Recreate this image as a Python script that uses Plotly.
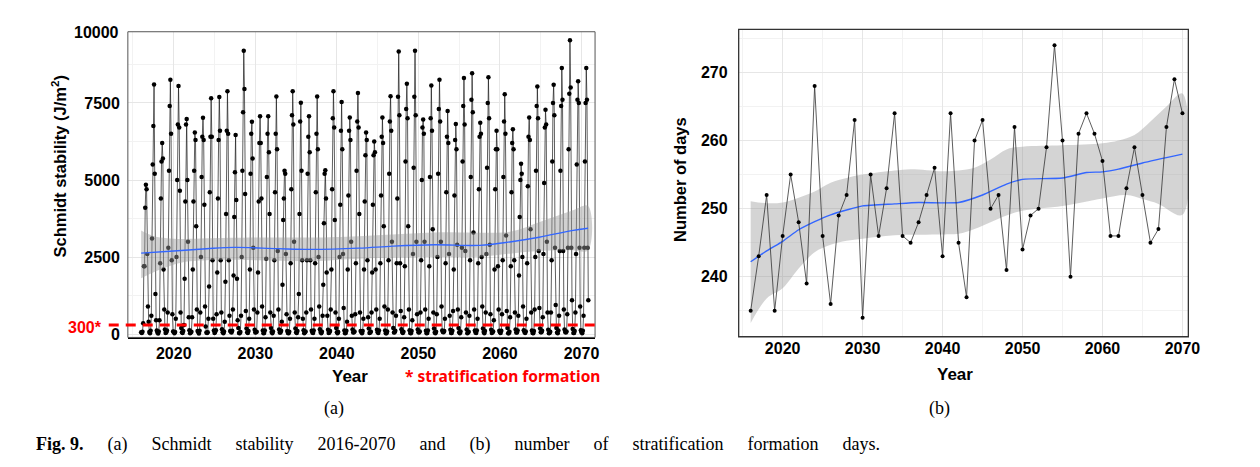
import plotly.graph_objects as go

# ---------------- Panel (a): monthly Schmidt stability (J/m2), Jan..Dec ----------------
years_a = list(range(2016, 2071))
schmidt_monthly = [
    [60, 40, 80, 350, 2200, 2200, 4100, 4850, 4700, 2600, 900, 400],      # 2016
    [70, 30, 110, 600, 3100, 5500, 6750, 8100, 5200, 1300, 450, 120],     # 2017
    [50, 20, 90, 450, 2300, 4400, 5600, 6200, 5700, 2100, 800, 150],      # 2018
    [40, 60, 120, 700, 2800, 5300, 7400, 8250, 6500, 2400, 650, 90],      # 2019
    [80, 30, 70, 500, 2500, 5000, 6800, 8050, 6700, 4650, 700, 200],      # 2020
    [60, 40, 100, 300, 1800, 4300, 6800, 6980, 5000, 3000, 550, 130],     # 2021
    [30, 50, 80, 550, 2100, 4300, 5300, 6540, 6300, 3500, 800, 100],      # 2022
    [70, 20, 110, 700, 2500, 5100, 6400, 7020, 6300, 4200, 900, 250],     # 2023
    [50, 40, 60, 500, 1550, 4600, 6400, 7650, 6400, 2400, 500, 120],      # 2024
    [40, 70, 130, 650, 2000, 4400, 6300, 7690, 6600, 2400, 700, 160],     # 2025
    [60, 30, 90, 400, 1700, 3900, 6600, 7880, 6500, 2400, 600, 100],      # 2026
    [80, 50, 110, 800, 1900, 3800, 5250, 6460, 4350, 1800, 450, 200],     # 2027
    [40, 30, 70, 600, 2500, 5300, 7200, 9190, 7950, 4550, 750, 180],      # 2028
    [60, 40, 100, 500, 2100, 5200, 6500, 6890, 5700, 2800, 800, 140],     # 2029
    [50, 60, 80, 700, 2000, 4300, 6200, 7070, 6200, 4400, 900, 120],      # 2030
    [30, 40, 120, 550, 2450, 5100, 6500, 7070, 5900, 3900, 700, 200],     # 2031
    [70, 30, 90, 600, 2400, 4600, 6500, 7710, 6000, 2700, 800, 150],      # 2032
    [50, 50, 110, 400, 1600, 3700, 4400, 5300, 5200, 2600, 650, 100],     # 2033
    [40, 30, 80, 500, 2300, 4700, 7100, 7880, 6800, 3000, 700, 180],      # 2034
    [60, 40, 100, 550, 1300, 3900, 6900, 7510, 5300, 2400, 500, 130],     # 2035
    [30, 60, 90, 700, 2400, 5200, 6400, 7070, 5900, 2400, 800, 110],      # 2036
    [50, 40, 120, 500, 2300, 4600, 6500, 7710, 6000, 2500, 900, 160],     # 2037
    [70, 30, 80, 600, 1600, 3600, 5200, 5320, 4400, 2000, 600, 140],      # 2038
    [40, 50, 100, 800, 2100, 4700, 7000, 7880, 6700, 3700, 700, 200],     # 2039
    [60, 30, 70, 500, 2500, 4200, 6600, 7530, 6000, 2600, 850, 120],      # 2040
    [30, 40, 110, 400, 2100, 4500, 6600, 7030, 6300, 3000, 600, 150],     # 2041
    [50, 60, 90, 650, 2300, 5300, 6900, 7820, 6700, 3900, 700, 100],      # 2042
    [70, 30, 100, 500, 2100, 4300, 5800, 6540, 6300, 2400, 550, 180],     # 2043
    [40, 50, 80, 700, 2000, 4200, 5800, 6250, 5900, 2100, 800, 140],      # 2044
    [60, 40, 120, 500, 2300, 4500, 6400, 7030, 6200, 3500, 900, 120],     # 2045
    [30, 30, 90, 800, 2400, 5200, 6900, 7720, 6600, 3000, 700, 200],      # 2046
    [50, 60, 110, 600, 2300, 4400, 7700, 9170, 7100, 2300, 750, 160],     # 2047
    [70, 40, 80, 550, 2200, 5600, 7300, 8120, 7000, 3500, 800, 130],      # 2048
    [40, 30, 100, 450, 2600, 5400, 7700, 9190, 7100, 3000, 650, 150],     # 2049
    [60, 50, 90, 700, 2400, 5000, 6700, 6960, 6500, 3000, 800, 110],      # 2050
    [30, 40, 120, 500, 2200, 5100, 7000, 8070, 6600, 3400, 700, 180],     # 2051
    [50, 30, 80, 650, 2500, 5200, 7300, 8250, 6900, 3000, 900, 120],      # 2052
    [70, 60, 100, 500, 2300, 4600, 6400, 7240, 6200, 2600, 600, 140],     # 2053
    [40, 40, 110, 750, 2100, 4500, 6300, 6820, 6000, 2900, 800, 200],     # 2054
    [60, 30, 90, 550, 2800, 5600, 7400, 8310, 6800, 2700, 700, 150],      # 2055
    [30, 50, 80, 600, 2400, 5100, 7600, 8460, 7200, 3300, 800, 120],      # 2056
    [50, 40, 120, 500, 2300, 4700, 6400, 6860, 6500, 2500, 900, 180],     # 2057
    [70, 30, 100, 700, 2600, 5400, 7500, 8330, 7000, 2900, 650, 140],     # 2058
    [40, 60, 90, 450, 2100, 4700, 6000, 6600, 6000, 2200, 800, 110],      # 2059
    [60, 40, 110, 650, 2400, 5100, 6900, 7780, 6500, 3200, 750, 200],     # 2060
    [30, 30, 80, 550, 2200, 4600, 6200, 6650, 6000, 2400, 700, 150],      # 2061
    [50, 50, 120, 600, 1900, 3800, 5000, 5530, 5200, 2500, 900, 130],     # 2062
    [70, 40, 90, 500, 2300, 4800, 6400, 7030, 6300, 3400, 700, 120],      # 2063
    [40, 30, 100, 800, 2500, 5300, 7400, 8030, 7000, 2700, 850, 180],     # 2064
    [60, 60, 110, 550, 2600, 4900, 6700, 7280, 6800, 3000, 700, 140],     # 2065
    [30, 40, 80, 700, 2400, 5600, 7500, 8090, 7100, 2800, 950, 200],      # 2066
    [50, 30, 120, 600, 2700, 5300, 7400, 8630, 7600, 2700, 800, 150],     # 2067
    [70, 50, 90, 650, 2800, 6000, 7800, 9530, 8000, 2800, 1100, 170],     # 2068
    [40, 40, 100, 700, 2600, 5500, 7600, 8200, 7500, 2800, 900, 130],     # 2069
    [60, 30, 110, 600, 2800, 5600, 7500, 8630, 7600, 2800, 1100],         # 2070 (to Nov)
]

# loess fit + 95% band
smooth_a_x = [2016.0, 2020.0, 2024.0, 2027.4, 2032.7, 2036.8, 2042.7, 2046.9, 2052.0, 2057.5, 2061.4, 2064.8, 2068.8, 2070.8]
smooth_a_fit = [2630, 2700, 2770, 2815, 2775, 2750, 2790, 2855, 2900, 2880, 3000, 3145, 3360, 3434]
band_a_x = [2016.0, 2017.6, 2020.9, 2024.0, 2030.0, 2037.0, 2042.7, 2052.0, 2057.5, 2061.4, 2064.8, 2068.8, 2070.8]
band_a_upper = [3360, 3180, 3090, 3110, 3135, 3135, 3180, 3300, 3290, 3330, 3630, 4000, 4160]
band_a_lower = [1810, 2020, 2320, 2400, 2400, 2370, 2450, 2500, 2510, 2620, 2700, 2720, 2720]
threshold = 300

# ---------------- Panel (b): number of stratification formation days ----------------
years_b = list(range(2016, 2071))
days = [235, 243, 252, 235, 246, 255, 248, 239, 268, 246, 236, 249, 252, 263, 234, 255, 246, 253,
        264, 246, 245, 248, 252, 256, 243, 264, 245, 237, 260, 263, 250, 252, 241, 262, 244, 249,
        250, 259, 274, 260, 240, 261, 264, 261, 257, 246, 246, 253, 259, 252, 245, 247, 262, 269, 264]
smooth_b_x = [2016, 2018, 2020, 2022, 2024, 2026, 2028, 2030, 2034, 2037, 2042, 2045, 2048, 2050, 2055, 2058, 2060, 2062, 2065, 2070]
smooth_b_fit = [242.2, 243.8, 245.2, 246.9, 248.1, 249.1, 249.8, 250.4, 250.7, 250.9, 250.9, 252.0, 253.6, 254.3, 254.5, 255.3, 255.4, 255.8, 256.7, 258.0]
band_b_upper_x = [2016, 2018, 2020, 2022, 2024, 2026, 2028, 2030, 2034, 2036, 2040, 2042, 2044, 2046, 2048, 2050, 2055, 2060, 2062, 2064, 2066, 2068, 2070]
band_b_upper = [251.1, 250.8, 250.9, 251.6, 252.5, 253.8, 254.5, 255.0, 255.6, 255.8, 255.5, 255.6, 256.0, 257.2, 258.7, 259.1, 259.3, 259.6, 260.0, 260.8, 262.8, 265.0, 266.9]
band_b_lower_x = [2016, 2018, 2020, 2022, 2024, 2026, 2028, 2030, 2034, 2040, 2042, 2044, 2046, 2048, 2050, 2055, 2060, 2063, 2065, 2067, 2070]
band_b_lower = [233.2, 236.8, 238.3, 241.2, 243.6, 244.7, 245.3, 245.6, 246.1, 246.2, 246.3, 247.0, 248.0, 249.0, 249.7, 250.4, 251.5, 252.0, 251.4, 250.7, 249.1]

# ---------------- build monthly x (decimal year) ----------------
xa, ya = [], []
for yr, row in zip(years_a, schmidt_monthly):
    for m, v in enumerate(row):
        xa.append(yr + m / 12.0)
        ya.append(v)

W, H = 1260, 467
def px(x):
    return x / W
def py(y):
    return 1 - y / H

BOLD = "Liberation Sans"
fig = go.Figure()

# panel a traces
fig.add_trace(go.Scatter(x=xa, y=ya, mode="lines+markers", line=dict(color="#1a1a1a", width=0.7),
                         marker=dict(color="black", size=4.5), xaxis="x", yaxis="y", showlegend=False))
fig.add_trace(go.Scatter(x=band_a_x + band_a_x[::-1], y=band_a_upper + band_a_lower[::-1], fill="toself",
                         fillcolor="rgba(153,153,153,0.45)", line=dict(width=0, shape="spline"),
                         mode="lines", xaxis="x", yaxis="y", showlegend=False, hoverinfo="skip"))
fig.add_trace(go.Scatter(x=smooth_a_x, y=smooth_a_fit, mode="lines", line=dict(color="#3366FF", width=1.4, shape="spline"),
                         xaxis="x", yaxis="y", showlegend=False))

# panel b traces
fig.add_trace(go.Scatter(x=band_b_upper_x + band_b_lower_x[::-1], y=band_b_upper + band_b_lower[::-1], fill="toself",
                         fillcolor="rgba(153,153,153,0.42)", line=dict(width=0, shape="spline"),
                         mode="lines", xaxis="x2", yaxis="y2", showlegend=False, hoverinfo="skip"))
fig.add_trace(go.Scatter(x=smooth_b_x, y=smooth_b_fit, mode="lines", line=dict(color="#3366FF", width=1.4, shape="spline", smoothing=0.6),
                         xaxis="x2", yaxis="y2", showlegend=False))
fig.add_trace(go.Scatter(x=years_b, y=days, mode="lines+markers", line=dict(color="#333333", width=0.8),
                         marker=dict(color="black", size=4), xaxis="x2", yaxis="y2", showlegend=False))

tickfont = dict(family=BOLD, size=16, color="black", weight="bold")
grid_major = "#e6e6e6"
grid_minor = "#f2f2f2"

fig.update_layout(
    width=W, height=H, margin=dict(l=0, r=0, t=0, b=0),
    paper_bgcolor="white", plot_bgcolor="white",
    xaxis=dict(domain=[px(121), px(592.7)], range=[2014.37, 2071.66], tickvals=[2020, 2030, 2040, 2050, 2060, 2070],
               showgrid=True, gridcolor=grid_major, gridwidth=1, zeroline=False,
               minor=dict(tickvals=[2015, 2025, 2035, 2045, 2055, 2065], showgrid=True, gridcolor=grid_minor),
               showline=True, linecolor="black", linewidth=2, ticks="", ticklen=0, tickfont=tickfont,
               ticklabelstandoff=0, anchor="y"),
    yaxis=dict(domain=[py(333), py(24)], range=[-106, 9810], tickvals=[0, 2500, 5000, 7500],
               showgrid=True, gridcolor=grid_major, zeroline=False,
               minor=dict(tickvals=[1250, 3750, 6250, 8750], showgrid=True, gridcolor=grid_minor),
               showline=False, ticks="", ticklen=0, tickfont=tickfont, ticklabelstandoff=7, anchor="x"),
    xaxis2=dict(domain=[px(737.7), px(1191.7)], range=[2014.5, 2070.74], tickvals=[2020, 2030, 2040, 2050, 2060, 2070],
                showgrid=True, gridcolor=grid_major, zeroline=False,
                minor=dict(tickvals=[2015, 2025, 2035, 2045, 2055, 2065], showgrid=True, gridcolor=grid_minor),
                showline=False, ticks="", ticklen=0, tickfont=tickfont, ticklabelstandoff=0, anchor="y2"),
    yaxis2=dict(domain=[py(332.3), py(21.7)], range=[231.2, 276.3], tickvals=[240, 250, 260, 270],
                showgrid=True, gridcolor=grid_major, zeroline=False,
                minor=dict(tickvals=[235, 245, 255, 265, 275], showgrid=True, gridcolor=grid_minor),
                showline=False, ticks="", ticklen=0, tickfont=tickfont, ticklabelstandoff=10, anchor="x2"),
)

shapes = [
    # panel a border
    dict(type="rect", xref="x domain", yref="y domain", x0=0, x1=1, y0=0, y1=1, line=dict(color="#555555", width=1)),
    # threshold dashed line (extends left of panel)
    dict(type="line", xref="paper", yref="y", x0=px(101.7), x1=px(592.7), y0=threshold, y1=threshold,
         line=dict(color="#ff0000", width=3, dash="10px,7px")),
    # panel b border
    dict(type="rect", xref="x2 domain", yref="y2 domain", x0=0, x1=1, y0=0, y1=1, line=dict(color="#333333", width=1.3)),
]
fig.update_layout(shapes=shapes)

ann = []
ann.append(dict(text="10000", xref="paper", yref="paper", x=px(114), y=py(25), xanchor="right", yanchor="middle",
                showarrow=False, font=tickfont))
ann.append(dict(text="300*", xref="paper", yref="y", x=px(97), y=threshold, yshift=-3, xanchor="right", yanchor="middle",
                showarrow=False, font=dict(family=BOLD, size=16, color="#ff0000", weight="bold")))
ann.append(dict(text="Schmidt stability (J/m<sup>2</sup>)", xref="paper", yref="paper", x=px(51.7), y=py(160),
                textangle=-90, xanchor="center", yanchor="middle", showarrow=False,
                font=dict(family=BOLD, size=16.5, color="black", weight="bold")))
ann.append(dict(text="Year", xref="paper", yref="paper", x=px(345.7), y=py(372.3), xanchor="center", yanchor="middle",
                showarrow=False, font=dict(family=BOLD, size=17, color="black", weight="bold")))
ann.append(dict(text="* stratification formation", xref="paper", yref="paper", x=px(499.3), y=py(372.3),
                xanchor="center", yanchor="middle", showarrow=False,
                font=dict(family="Noto Sans", size=15.5, color="#ff0000", weight="bold")))
ann.append(dict(text="Number of days", xref="paper", yref="paper", x=px(679), y=py(173.3), textangle=-90,
                xanchor="center", yanchor="middle", showarrow=False,
                font=dict(family=BOLD, size=16.5, color="black", weight="bold")))
ann.append(dict(text="Year", xref="paper", yref="paper", x=px(955.7), y=py(370), xanchor="center", yanchor="middle",
                showarrow=False, font=dict(family=BOLD, size=17, color="black", weight="bold")))
serif = "Liberation Serif"
ann.append(dict(text="(a)", xref="paper", yref="paper", x=px(329), y=py(405), xanchor="center", yanchor="middle",
                showarrow=False, font=dict(family=serif, size=18, color="black")))
ann.append(dict(text="(b)", xref="paper", yref="paper", x=px(940), y=py(405), xanchor="center", yanchor="middle",
                showarrow=False, font=dict(family=serif, size=18, color="black")))
gap = " \u00a0\u00a0\u00a0\u00a0\u200a"
cap_words = ["(a)", "Schmidt", "stability", "2016-2070", "and", "(b)", "number", "of", "stratification", "formation", "days."]
caption = "<b>Fig. 9.</b>" + gap + gap.join(cap_words)
ann.append(dict(text=caption, xref="paper", yref="paper", x=px(26), y=py(441), xanchor="left", yanchor="middle",
                align="left", showarrow=False, font=dict(family=serif, size=18, color="black")))
fig.update_layout(annotations=ann)

fig.write_html("out.html")
